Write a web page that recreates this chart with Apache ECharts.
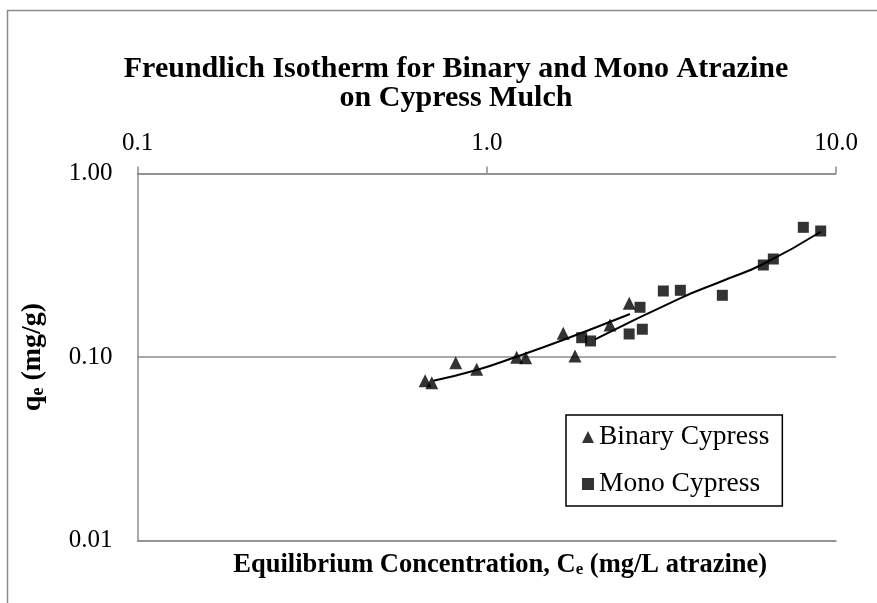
<!DOCTYPE html>
<html>
<head>
<meta charset="utf-8">
<script src="https://cdn.jsdelivr.net/npm/echarts@6/dist/echarts.min.js"></script>
<style>
  html, body { margin: 0; padding: 0; background: #fff; }
  #chart { width: 877px; height: 603px; }
</style>
</head>
<body>
<div id="chart"></div>
<script>
// Binary atrazine on cypress mulch: Ce (mg/L), qe (mg/g)
const binaryCe = [0.666, 0.696, 0.815, 0.936, 1.218, 1.292, 1.656, 1.789, 2.254, 2.559];
const binaryQe = [0.0743, 0.0724, 0.0931, 0.0857, 0.0996, 0.0991, 0.1346, 0.1013, 0.1494, 0.1962];
// Mono atrazine on cypress mulch
const monoCe = [1.870, 1.982, 2.557, 2.747, 2.789, 3.203, 3.584, 4.727, 6.193, 6.615, 8.062, 9.040];
const monoQe = [0.1274, 0.1223, 0.1335, 0.1866, 0.1417, 0.2289, 0.2309, 0.2169, 0.3172, 0.3420, 0.5089, 0.4860];
// trend lines
const binaryFitCe = [0.703, 0.936, 1.221, 1.653, 2.571];
const binaryFitQe = [0.0743, 0.0849, 0.1006, 0.1238, 0.1715];
const monoFitCe = [2.042, 3.576, 4.727, 6.193, 9.040];
const monoFitQe = [0.1248, 0.2089, 0.2595, 0.3212, 0.4816];

const zip = (xs, ys) => xs.map((x, i) => [x, ys[i]]);

const serif = '"Liberation Serif", "DejaVu Serif", serif';
const gray = '#8c8c8c';

const chart = echarts.init(document.getElementById('chart'));
const option = {
  animation: false,
  title: {
    text: 'Freundlich Isotherm for Binary and Mono Atrazine\non Cypress Mulch',
    left: 451,
    top: 50,
    textAlign: 'center',
    textStyle: {
      fontFamily: serif,
      fontWeight: 'bold',
      fontSize: 30,
      lineHeight: 29,
      color: '#000'
    }
  },
  graphic: [{
    type: 'rect',
    shape: { x: 7.5, y: 10.5, width: 1000, height: 1000 },
    style: { fill: 'none', stroke: gray, lineWidth: 1.5 },
    silent: true
  }],
  legend: {
    orient: 'vertical',
    left: 566,
    top: 415,
    padding: [8, 13, 8, 16],
    itemGap: 19,
    itemWidth: 12,
    itemHeight: 12,
    borderColor: '#000',
    borderWidth: 1.5,
    textStyle: { fontFamily: serif, fontSize: 27.5, color: '#000' },
    data: [
      { name: 'Binary Cypress', icon: 'triangle' },
      { name: 'Mono Cypress', icon: 'rect' }
    ]
  },
  grid: { left: 137.5, right: 41, top: 173.5, bottom: 62.5 },
  xAxis: [{
    type: 'log',
    logBase: 10,
    min: 0.1,
    max: 10,
    position: 'top',
    axisLine: { show: true, lineStyle: { color: gray, width: 1.5 } },
    axisTick: { show: true, inside: false, length: 7, lineStyle: { color: gray, width: 1.5 } },
    minorTick: { show: false },
    splitLine: { show: false },
    axisLabel: {
      margin: 18,
      fontFamily: serif,
      fontSize: 25,
      color: '#000',
      formatter: v => Number(v).toFixed(1)
    }
  }, {
    type: 'log',
    logBase: 10,
    min: 0.1,
    max: 10,
    position: 'bottom',
    axisLine: { show: true, lineStyle: { color: gray, width: 1.5 } },
    axisTick: { show: false },
    axisLabel: { show: false },
    splitLine: { show: false },
    name: '{b|Equilibrium Concentration, C}{s|e}{b| (mg/L atrazine)}',
    nameLocation: 'middle',
    nameGap: 11,
    nameTextStyle: {
      padding: [0, 0, 0, 27],
      rich: {
        b: { fontFamily: serif, fontWeight: 'bold', fontSize: 26.5, color: '#000' },
        s: { fontFamily: serif, fontWeight: 'bold', fontSize: 17, color: '#000', verticalAlign: 'bottom', padding: [10, 0, 0, 0] }
      }
    }
  }],
  yAxis: {
    type: 'log',
    logBase: 10,
    min: 0.01,
    max: 1,
    axisLine: { show: true, lineStyle: { color: gray, width: 1.5 } },
    axisTick: { show: false },
    splitLine: { show: true, lineStyle: { color: gray, width: 1.5 } },
    axisLabel: {
      margin: 25,
      fontFamily: serif,
      fontSize: 25,
      color: '#000',
      formatter: v => Number(v).toFixed(2)
    },
    name: '{b|q}{s|e}{b| (mg/g)}',
    nameLocation: 'middle',
    nameRotate: 90,
    nameGap: 90,
    nameTextStyle: {
      rich: {
        b: { fontFamily: serif, fontWeight: 'bold', fontSize: 28, color: '#000' },
        s: { fontFamily: serif, fontWeight: 'bold', fontSize: 18, color: '#000', verticalAlign: 'bottom', padding: [11, 0, 0, 0] }
      }
    }
  },
  series: [{
    name: 'Binary Cypress',
    type: 'scatter',
    symbol: 'triangle',
    symbolSize: 13,
    itemStyle: { color: '#000' },
    data: zip(binaryCe, binaryQe),
    z: 3
  }, {
    name: 'Mono Cypress',
    type: 'scatter',
    symbol: 'rect',
    symbolSize: 11,
    itemStyle: { color: '#000' },
    data: zip(monoCe, monoQe),
    z: 3
  }, {
    name: 'Binary fit',
    type: 'line',
    smooth: true,
    showSymbol: false,
    lineStyle: { color: '#000', width: 2 },
    data: zip(binaryFitCe, binaryFitQe),
    z: 2
  }, {
    name: 'Mono fit',
    type: 'line',
    smooth: true,
    showSymbol: false,
    lineStyle: { color: '#000', width: 2 },
    data: zip(monoFitCe, monoFitQe),
    z: 2
  }]
};
chart.setOption(option);
</script>
</body>
</html>
